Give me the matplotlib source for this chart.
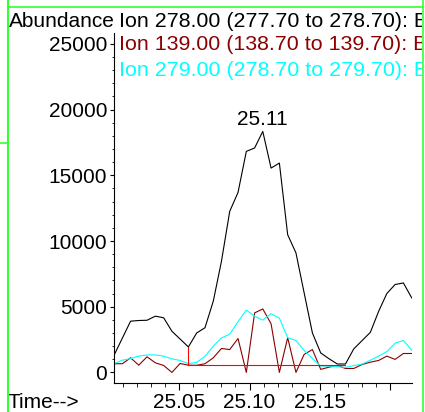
import matplotlib
matplotlib.use("Agg")
import matplotlib.pyplot as plt
from matplotlib.patches import Rectangle
from matplotlib.lines import Line2D

plt.rcParams["font.family"] = ["Liberation Sans", "DejaVu Sans"]

# retention time (min)
times = [25.0036, 25.0095, 25.0154, 25.0212, 25.0271, 25.0330, 25.0389, 25.0448,
         25.0506, 25.0565, 25.0624, 25.0683, 25.0742, 25.0800, 25.0859, 25.0918,
         25.0977, 25.1036, 25.1094, 25.1153, 25.1212, 25.1271, 25.1330, 25.1388,
         25.1447, 25.1506, 25.1565, 25.1624, 25.1682, 25.1741, 25.1800, 25.1859,
         25.1918, 25.1976, 25.2035, 25.2094, 25.2153]

# Ion 278.00
ion278 = [1300, 2600, 3900, 3950, 3970, 4280, 4160, 3130, 2540, 1940, 3000, 3400,
          5420, 8450, 12260, 13700, 16820, 17080, 18340, 15550, 15930, 10480, 9090,
          6060, 3000, 1480, 1040, 640, 640, 1790, 2420, 3050, 4650, 6000, 6690,
          6810, 5670]

# Ion 139.00
ion139 = [660, 660, 1110, 550, 1190, 730, 530, 0, 680, 550, 540, 660, 1110, 1820,
          1740, 2580, 0, 4530, 4830, 3700, 0, 2640, 0, 1370, 1740, 230, 400, 530,
          300, 300, 600, 780, 910, 1240, 990, 1440, 1440]

# Ion 279.00
ion279 = [670, 930, 1050, 1240, 1330, 1330, 1240, 1030, 910, 670, 760, 1220, 2000,
          2620, 2910, 3860, 4740, 4280, 3980, 4470, 4130, 2640, 2430, 1670, 1060,
          480, 480, 440, 380, 520, 630, 930, 1240, 1580, 2230, 2430, 1690]

# integration baseline of the 25.11 peak
base_start = 9
base_end = 28
base_level = 550

peak_idx = 18
peak_label = "25.11"

legend_texts = ["Ion 278.00 (277.70 to 278.70): B",
                "Ion 139.00 (138.70 to 139.70): B",
                "Ion 279.00 (278.70 to 279.70): B"]

dark_red = "#8b0000"
cyan = "#00ffff"
fs = 15

fig = plt.figure(figsize=(4.25, 4.12), dpi=100)
ax = fig.add_axes([114 / 425, 29 / 412, 297.7 / 425, 350 / 412])

ax.plot(times, ion278, color="black", lw=0.8)
ax.plot(times, ion139, color=dark_red, lw=0.8)
ax.plot(times, ion279, color=cyan, lw=0.8)

# baseline
ax.plot([times[base_start], times[base_start]], [ion278[base_start], base_level],
        color="red", lw=0.8)
ax.plot([times[base_start], times[base_end]], [base_level, base_level],
        color="red", lw=0.8)

ax.annotate(peak_label, (times[peak_idx], ion278[peak_idx]), xytext=(0, 4.8),
            textcoords="offset points", ha="center", va="baseline", fontsize=fs)

ax.set_xlim(times[0], times[-1])
ax.set_ylim(-806, 25830)

ax.spines["top"].set_visible(False)
ax.spines["right"].set_visible(False)
ax.spines["left"].set_linewidth(0.8)
ax.spines["bottom"].set_linewidth(0.8)

ax.set_yticks([0, 5000, 10000, 15000, 20000, 25000])
ax.set_yticks(range(0, 26000, 1000), minor=True)
ax.set_xticks([25.05, 25.10, 25.15, 25.20])
ax.set_xticklabels(["25.05", "25.10", "25.15", ""])
ax.set_xticks([25.01 + 0.01 * k for k in range(20)], minor=True)
ax.tick_params(axis="both", labelsize=fs, width=0.8)
ax.tick_params(axis="y", which="major", length=3, pad=2)
ax.tick_params(axis="y", which="minor", length=1.5)
ax.tick_params(axis="x", which="major", length=5, pad=2)
ax.tick_params(axis="x", which="minor", length=3)

fig.text(9 / 425, 1 - 27 / 412, "Abundance", fontsize=fs, va="baseline")
fig.text(8 / 425, 1 - 407.5 / 412, "Time-->", fontsize=fs, va="baseline")
for k, (txt, col) in enumerate(zip(legend_texts, ["black", dark_red, cyan])):
    yb = [27, 50.5, 76][k]
    fig.text(119 / 425, 1 - yb / 412, txt, fontsize=15.4, color=col, va="baseline")

# cover what runs past the frame, then the green frame
fig.patches.append(Rectangle((422 / 425, 0), 3 / 425, 1, transform=fig.transFigure,
                             facecolor="white", edgecolor="none", zorder=20))
green = "#33ff33"
fig.lines.append(Line2D([7.5 / 425, 7.5 / 425], [0, 1], transform=fig.transFigure,
                        color=green, lw=1.5, zorder=21))
fig.lines.append(Line2D([422.5 / 425, 422.5 / 425], [0, 1], transform=fig.transFigure,
                        color=green, lw=1.2, zorder=21))
fig.lines.append(Line2D([7.5 / 425, 422.5 / 425], [1 - 6.5 / 412, 1 - 6.5 / 412],
                        transform=fig.transFigure, color=green, lw=1.2, zorder=21))
fig.lines.append(Line2D([0, 7.5 / 425], [1 - 143 / 412, 1 - 143 / 412],
                        transform=fig.transFigure, color=green, lw=1.2, zorder=21))

fig.savefig("out.png", dpi=100)
